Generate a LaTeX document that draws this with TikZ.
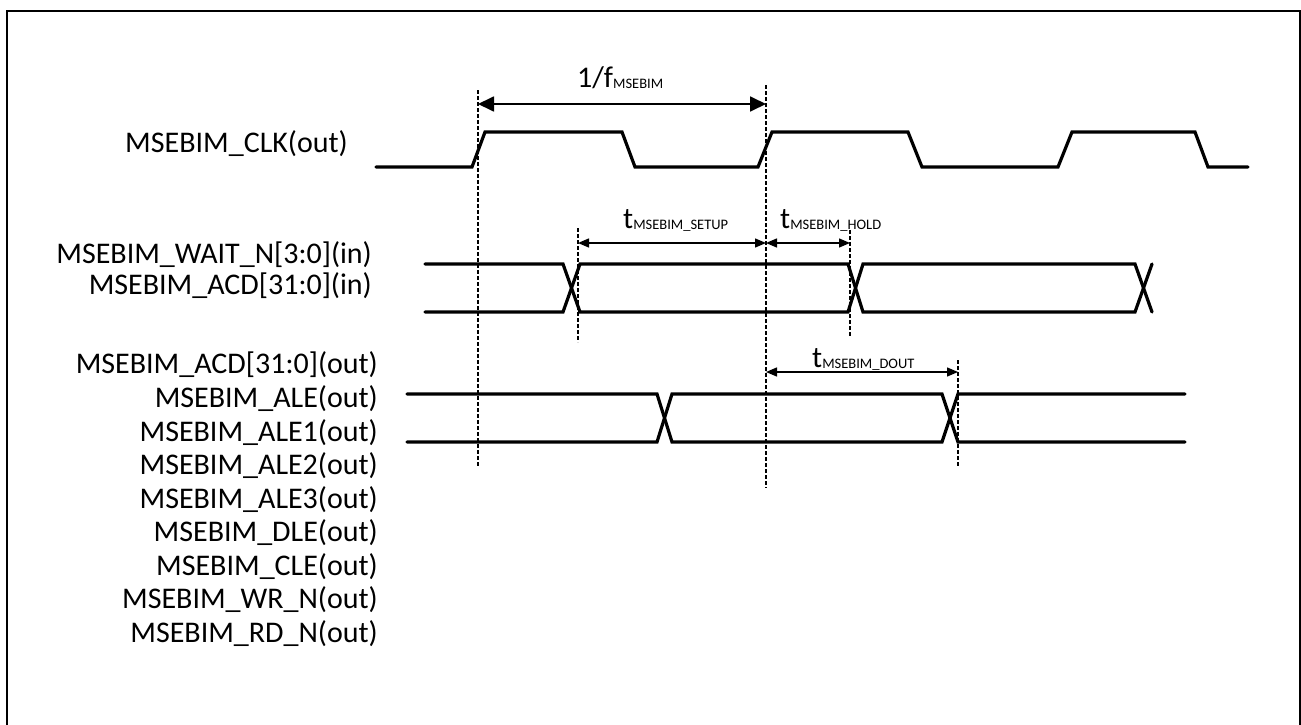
\documentclass[tikz,border=0pt]{standalone}
\usepackage{fontspec}
\setmainfont{Carlito}
\usetikzlibrary{arrows.meta}
\newcommand{\bigtxt}{\fontsize{30}{36}\selectfont}
\newcommand{\subtxt}[1]{{\fontsize{14.5}{15}\selectfont\raisebox{-1pt}{#1}}}
\begin{document}
\begin{tikzpicture}[x=1pt,y=-1pt,
  sig/.style={line width=3.2pt,line join=miter,line cap=round},
  dotline/.style={line width=2.2pt,dash pattern=on 3.5pt off 2.5pt},
  dimbig/.style={line width=1.8pt,{Triangle[length=16pt,width=15pt]}-{Triangle[length=16pt,width=15pt]}},
  dimsmall/.style={line width=1.4pt,{Triangle[length=11pt,width=9pt]}-{Triangle[length=11pt,width=9pt]}},
  lbl/.style={anchor=base east,inner sep=0pt,font=\bigtxt},
  tlbl/.style={anchor=base west,inner sep=0pt,font=\bigtxt}]
\useasboundingbox (0,0) rectangle (1301,725);
% frame
\draw[line width=2pt] (7,735) -- (7,11) -- (1300,11) -- (1300,735);

% signal labels
\node[lbl] (lclk) at (348,152) {MSEBIM\_CLK(out)};
\node[lbl] (lwait) at (372,263) {MSEBIM\_WAIT\_N[3:0](in)};
\node[lbl] (lacdin) at (372,294) {MSEBIM\_ACD[31:0](in)};
\node[lbl] (lacdout) at (378,373) {MSEBIM\_ACD[31:0](out)};
\node[lbl] (lale) at (378,407) {MSEBIM\_ALE(out)};
\node[lbl] (lale1) at (378,441) {MSEBIM\_ALE1(out)};
\node[lbl] (lale2) at (378,474) {MSEBIM\_ALE2(out)};
\node[lbl] (lale3) at (378,508) {MSEBIM\_ALE3(out)};
\node[lbl] (ldle) at (378,541) {MSEBIM\_DLE(out)};
\node[lbl] (lcle) at (378,575) {MSEBIM\_CLE(out)};
\node[lbl] (lwr) at (378,608) {MSEBIM\_WR\_N(out)};
\node[lbl] (lrd) at (378,642) {MSEBIM\_RD\_N(out)};

% clock
\draw[sig] (376,167) -- (472,167) -- (485,132) -- (622,132) -- (635,167) -- (758,167) -- (772,132) -- (908,132) -- (922,167) -- (1058,167) -- (1072,132) -- (1195,132) -- (1208,167) -- (1248,167);

% input bus
\draw[sig] (425,264) -- (563,264) -- (580,312) -- (848,312) -- (863,264) -- (1135,264) -- (1152,312);
\draw[sig] (425,312) -- (563,312) -- (580,264) -- (848,264) -- (863,312) -- (1135,312) -- (1152,264);

% output bus
\draw[sig] (407,394) -- (657,394) -- (672,442) -- (942,442) -- (958,394) -- (1185,394);
\draw[sig] (407,442) -- (657,442) -- (672,394) -- (942,394) -- (958,442) -- (1185,442);

% dotted reference lines
\coordinate (r1t) at (478,90);  \coordinate (r1b) at (478,466);
\coordinate (r2t) at (766,85);  \coordinate (r2b) at (766,488);
\coordinate (s1t) at (578,228); \coordinate (s1b) at (578,342);
\coordinate (h1t) at (850,230); \coordinate (h1b) at (850,336);
\coordinate (d1t) at (958,360); \coordinate (d1b) at (958,467);
\draw[dotline] (r1t) -- (r1b);
\draw[dotline] (r2t) -- (r2b);
\draw[dotline] (s1t) -- (s1b);
\draw[dotline] (h1t) -- (h1b);
\draw[dotline] (d1t) -- (d1b);

% dimension arrows
\coordinate (pa) at (478,104); \coordinate (pb) at (766,104);
\draw[dimbig] (pa) -- (pb);
\coordinate (sa) at (578,243); \coordinate (sb) at (766,243); \coordinate (hb) at (850,243);
\draw[dimsmall] (sa) -- (sb);
\draw[dimsmall] (sb) -- (hb);
\coordinate (da) at (766,372); \coordinate (db) at (958,372);
\draw[dimsmall] (da) -- (db);

% dimension labels
\node[tlbl] (tper) at (577,88) {1/f\subtxt{MSEBIM}};
\node[tlbl] (tsetup) at (623,228) {t\subtxt{MSEBIM\_SETUP}};
\node[tlbl] (thold) at (780,228) {t\subtxt{MSEBIM\_HOLD}};
\node[tlbl] (tdout) at (812,367) {t\subtxt{MSEBIM\_DOUT}};
\end{tikzpicture}
\end{document}
